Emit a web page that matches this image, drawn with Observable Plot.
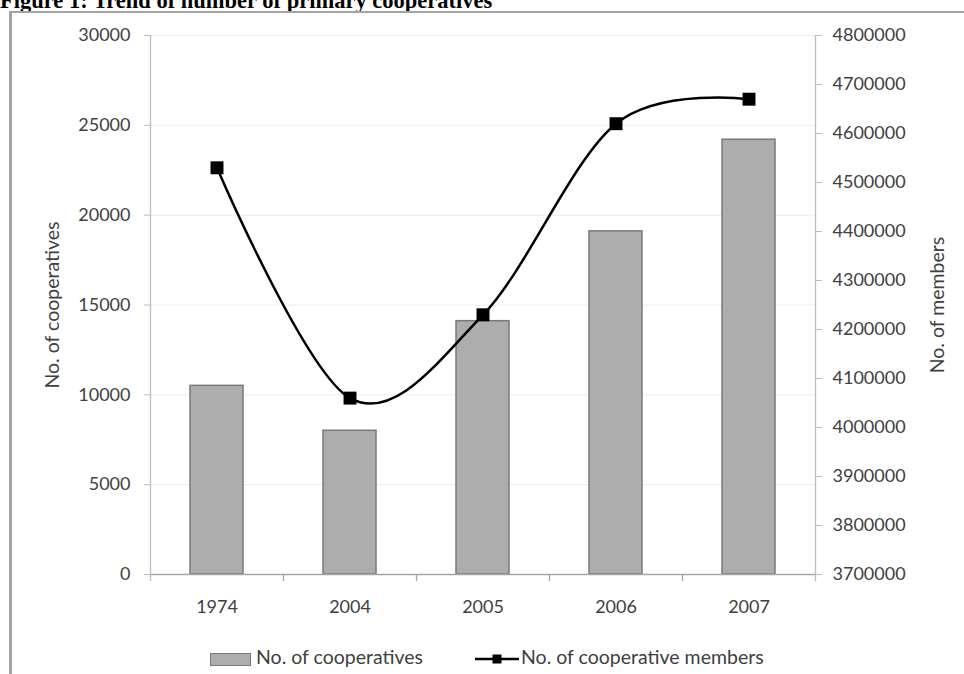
<!DOCTYPE html>
<html><head><meta charset="utf-8">
<script src="https://cdn.jsdelivr.net/npm/d3@7"></script>
<script src="https://cdn.jsdelivr.net/npm/@observablehq/plot@0.6"></script>
<style>
html,body{margin:0;padding:0;background:#fff;overflow:hidden;}
#page{position:relative;width:964px;height:674px;overflow:hidden;background:#fff;}
#title{position:absolute;left:0;top:-10px;font:bold 22.5px/22.5px "Liberation Serif","Times New Roman",serif;color:#000;white-space:nowrap;}
#chart{position:absolute;left:0;top:0;}
#frame{position:absolute;left:9px;top:11px;width:1000px;height:1000px;border-left:3px solid #a3a3a3;border-top:2px solid #a3a3a3;pointer-events:none;}
.lt{position:absolute;top:647px;font:19.5px/20px Lato,sans-serif;color:#404040;white-space:nowrap;}
</style>
</head><body>
<div id="page">
  <div id="title">Figure 1: Trend of number of primary cooperatives</div>
  <div id="chart"></div>
  <div id="frame"></div>
  <div id="legend">
    <div style="position:absolute;left:210px;top:653px;width:39px;height:11px;background:#adadad;border:1px solid #7a7a7a"></div>
    <div class="lt" style="left:256px">No. of cooperatives</div>
    <svg style="position:absolute;left:474px;top:652px" width="46" height="14"><line x1="1" y1="7" x2="45" y2="7" stroke="#000" stroke-width="2.5"/><rect x="18.5" y="2.5" width="9" height="9" fill="#000"/></svg>
    <div class="lt" style="left:521px">No. of cooperative members</div>
  </div>
</div>
<script>
const years = ["1974", "2004", "2005", "2006", "2007"];
const cooperatives = [10500, 8000, 14100, 19100, 24200];
const members = [4530000, 4060000, 4230000, 4620000, 4670000];
const leftTicks = [0, 5000, 10000, 15000, 20000, 25000, 30000];
const rightTicks = [3700000, 3800000, 3900000, 4000000, 4100000, 4200000, 4300000, 4400000, 4500000, 4600000, 4700000, 4800000];
const leftTitle = "No. of cooperatives";
const rightTitle = "No. of members";

const memMin = 3700000, memMax = 4800000, coopMax = 30000;
const toY = m => (m - memMin) / (memMax - memMin) * coopMax;
const fromY = y => Math.round((memMin + y / coopMax * (memMax - memMin)) / 100000) * 100000;
const data = years.map((year, i) => ({year, coops: cooperatives[i], members: members[i]}));

const W = 964, H = 674, mL = 150, mR = 149, mT = 35, mB = 100;
const half = (W - mL - mR) / years.length / 2;

const chart = Plot.plot({
  width: W, height: H,
  marginLeft: mL, marginRight: mR, marginTop: mT, marginBottom: mB,
  style: {fontFamily: "Lato, sans-serif", fontSize: "18px", color: "#404040", background: "transparent", overflow: "visible"},
  x: {type: "band", domain: years, paddingInner: 0.6, paddingOuter: 0.3, axis: null},
  y: {domain: [0, coopMax], axis: null},
  marks: [
    Plot.ruleY(leftTicks.filter(d => d > 0), {stroke: "#ececec"}),
    Plot.barY(data, {x: "year", y: "coops", fill: "#adadad", stroke: "#7a7a7a", strokeWidth: 1.5}),
    Plot.ruleY([0], {stroke: "#a6a6a6", strokeWidth: 1.3}),
    Plot.ruleX([years[0]], {x: d => d, dx: -half, y1: coopMax, y2: 0, insetBottom: -7, stroke: "#bdbdbd", strokeWidth: 1.3}),
    Plot.ruleX([years[years.length - 1]], {x: d => d, dx: half, y1: coopMax, y2: 0, insetBottom: -7, stroke: "#bdbdbd", strokeWidth: 1.3}),
    Plot.ruleX(years.slice(1), {x: d => d, dx: -half, y1: 0, y2: 0, insetBottom: -7, stroke: "#a6a6a6", strokeWidth: 1.3}),
    Plot.axisY({ticks: leftTicks, tickFormat: d => String(d), tickSize: 6, tickPadding: 14, label: null, stroke: "#bdbdbd", fill: "#404040"}),
    Plot.axisY({anchor: "right", ticks: rightTicks.map(toY), tickFormat: d => String(fromY(d)), tickSize: 6, tickPadding: 11, label: null, stroke: "#bdbdbd", fill: "#404040"}),
    Plot.axisX({tickSize: 0, tickPadding: 26, label: null, fill: "#404040"}),
    Plot.line(data, {x: "year", y: d => toY(d.members), curve: "cardinal", stroke: "#000", strokeWidth: 2.5}),
    Plot.dot(data, {x: "year", y: d => toY(d.members), symbol: "square", r: 7.3, fill: "#000", stroke: null}),
    Plot.text([leftTitle], {frameAnchor: "left", dx: -98, rotate: -90, textAnchor: "middle", fontSize: 19.5, fill: "#404040"}),
    Plot.text([rightTitle], {frameAnchor: "right", dx: 122, rotate: -90, textAnchor: "middle", fontSize: 19.5, fill: "#404040"})
  ]
});
document.getElementById("chart").appendChild(chart);
</script>
</body></html>
